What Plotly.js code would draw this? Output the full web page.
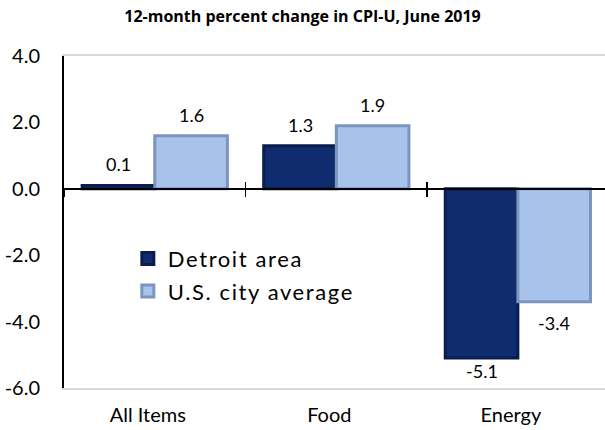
<!DOCTYPE html>
<html>
<head>
<meta charset="utf-8">
<script src="https://cdn.plot.ly/plotly-3.0.1.min.js"></script>
<style>
html,body{margin:0;padding:0;background:#fff;}
.legendtext{letter-spacing:1.6px;}
</style>
</head>
<body>
<div id="chart" style="width:605px;height:430px;"></div>
<script>
// ---- data ----
var categories = ["All Items", "Food", "Energy"];
var detroitValues = [0.1, 1.3, -5.1];
var usValues = [1.6, 1.9, -3.4];
var seriesNames = ["Detroit area", "U.S. city average"];
var yTickVals = [-6, -4, -2, 0, 2, 4];
var yTickText = ["-6.0", "-4.0", "-2.0", "0.0", "2.0", "4.0"];
var chartTitle = "12-month percent change in CPI-U, June 2019";

// ---- styling ----
var FONT = "Lato, 'Open Sans', sans-serif";
var darkFill = "#0f2c6f", darkEdge = "#0a1d4d";
var lightFill = "#a7c3eb", lightEdge = "#7b95bf";
var BARGAP = 0.2;
var half = (1 - BARGAP) / 4; // offset of each bar centre from category centre

function fmt(v){ return (v < 0 ? "-" : "") + Math.abs(v).toFixed(1); }

var traces = [
  {type:"bar", name:seriesNames[0], x:categories, y:detroitValues,
   marker:{color:darkFill, line:{color:darkEdge, width:3}},
   legendgroup:"a", hoverinfo:"skip"},
  {type:"bar", name:seriesNames[1], x:categories, y:usValues,
   marker:{color:lightFill, line:{color:lightEdge, width:3}},
   legendgroup:"b", hoverinfo:"skip"},
  // helper traces so the zero-line axes (with boundary ticks) are drawn
  {type:"scatter", x:categories, y:categories.map(function(){return null;}),
   xaxis:"x2", showlegend:false, hoverinfo:"skip", mode:"markers"},
  {type:"scatter", x:categories, y:categories.map(function(){return null;}),
   xaxis:"x3", showlegend:false, hoverinfo:"skip", mode:"markers"}
];

var yMin = -6, yMax = 4;
var plotH = 430 - 56 - 42;
var pxPerUnit = plotH / (yMax - yMin);
var annotations = [];
function addLabels(vals, sign){
  vals.forEach(function(v, i){
    var shift;
    if (v >= 0) shift = 21;
    else shift = -Math.min(21, (v - yMin) * pxPerUnit - 17);
    annotations.push({x: i + sign * half, y: v, xref:"x", yref:"y",
      text: fmt(v), showarrow:false, yshift: shift,
      font:{family:FONT, size:18, color:"#000"}});
  });
}
addLabels(detroitValues, -1);
addLabels(usValues, 1);

var layout = {
  width:605, height:430,
  margin:{l:64, r:0, t:56, b:42},
  paper_bgcolor:"#fff", plot_bgcolor:"#fff",
  title:{text:"<b>"+chartTitle+"</b>", x:0.5, xref:"container", xanchor:"center",
         y:1-16/430, yref:"container", yanchor:"middle",
         font:{family:"'Open Sans', sans-serif", size:16, color:"#000"}},
  barmode:"group", bargap:BARGAP, bargroupgap:0,
  showlegend:true,
  legend:{x:0.118, y:0.453, xanchor:"left", yanchor:"top",
          bgcolor:"rgba(0,0,0,0)", font:{family:FONT, size:22, color:"#000"},
          traceorder:"grouped", tracegroupgap:1},
  xaxis:{type:"category", range:[-0.5, 2.48], showline:true, linecolor:"#d9d9d9",
         linewidth:2, mirror:true, ticks:"", showgrid:false, zeroline:false,
         tickfont:{family:FONT, size:20, color:"#000"}, ticklabelshift:-7,
         ticklabelstandoff:8, fixedrange:true},
  xaxis2:{matches:"x", overlaying:"x", anchor:"free", position:(0-yMin)/(yMax-yMin),
          showline:true, linecolor:"#000", linewidth:2, ticks:"outside", ticklen:7,
          tickwidth:1.5, tickcolor:"#000", tickson:"boundaries", showticklabels:false,
          showgrid:false, zeroline:false},
  xaxis3:{matches:"x", overlaying:"x", anchor:"free", position:(0-yMin)/(yMax-yMin),
          showline:false, ticks:"inside", ticklen:7,
          tickwidth:1.5, tickcolor:"#000", tickson:"boundaries", showticklabels:false,
          showgrid:false, zeroline:false},
  yaxis:{range:[yMin, yMax], tickvals:yTickVals, ticktext:yTickText,
         showline:true, linecolor:"#000", linewidth:2, ticks:"", showgrid:false,
         zeroline:false, ticklabelstandoff:18,
         tickfont:{family:FONT, size:20, color:"#000"}, fixedrange:true},
  annotations:annotations
};

Plotly.newPlot("chart", traces, layout, {displayModeBar:false, staticPlot:true});
</script>
</body>
</html>
